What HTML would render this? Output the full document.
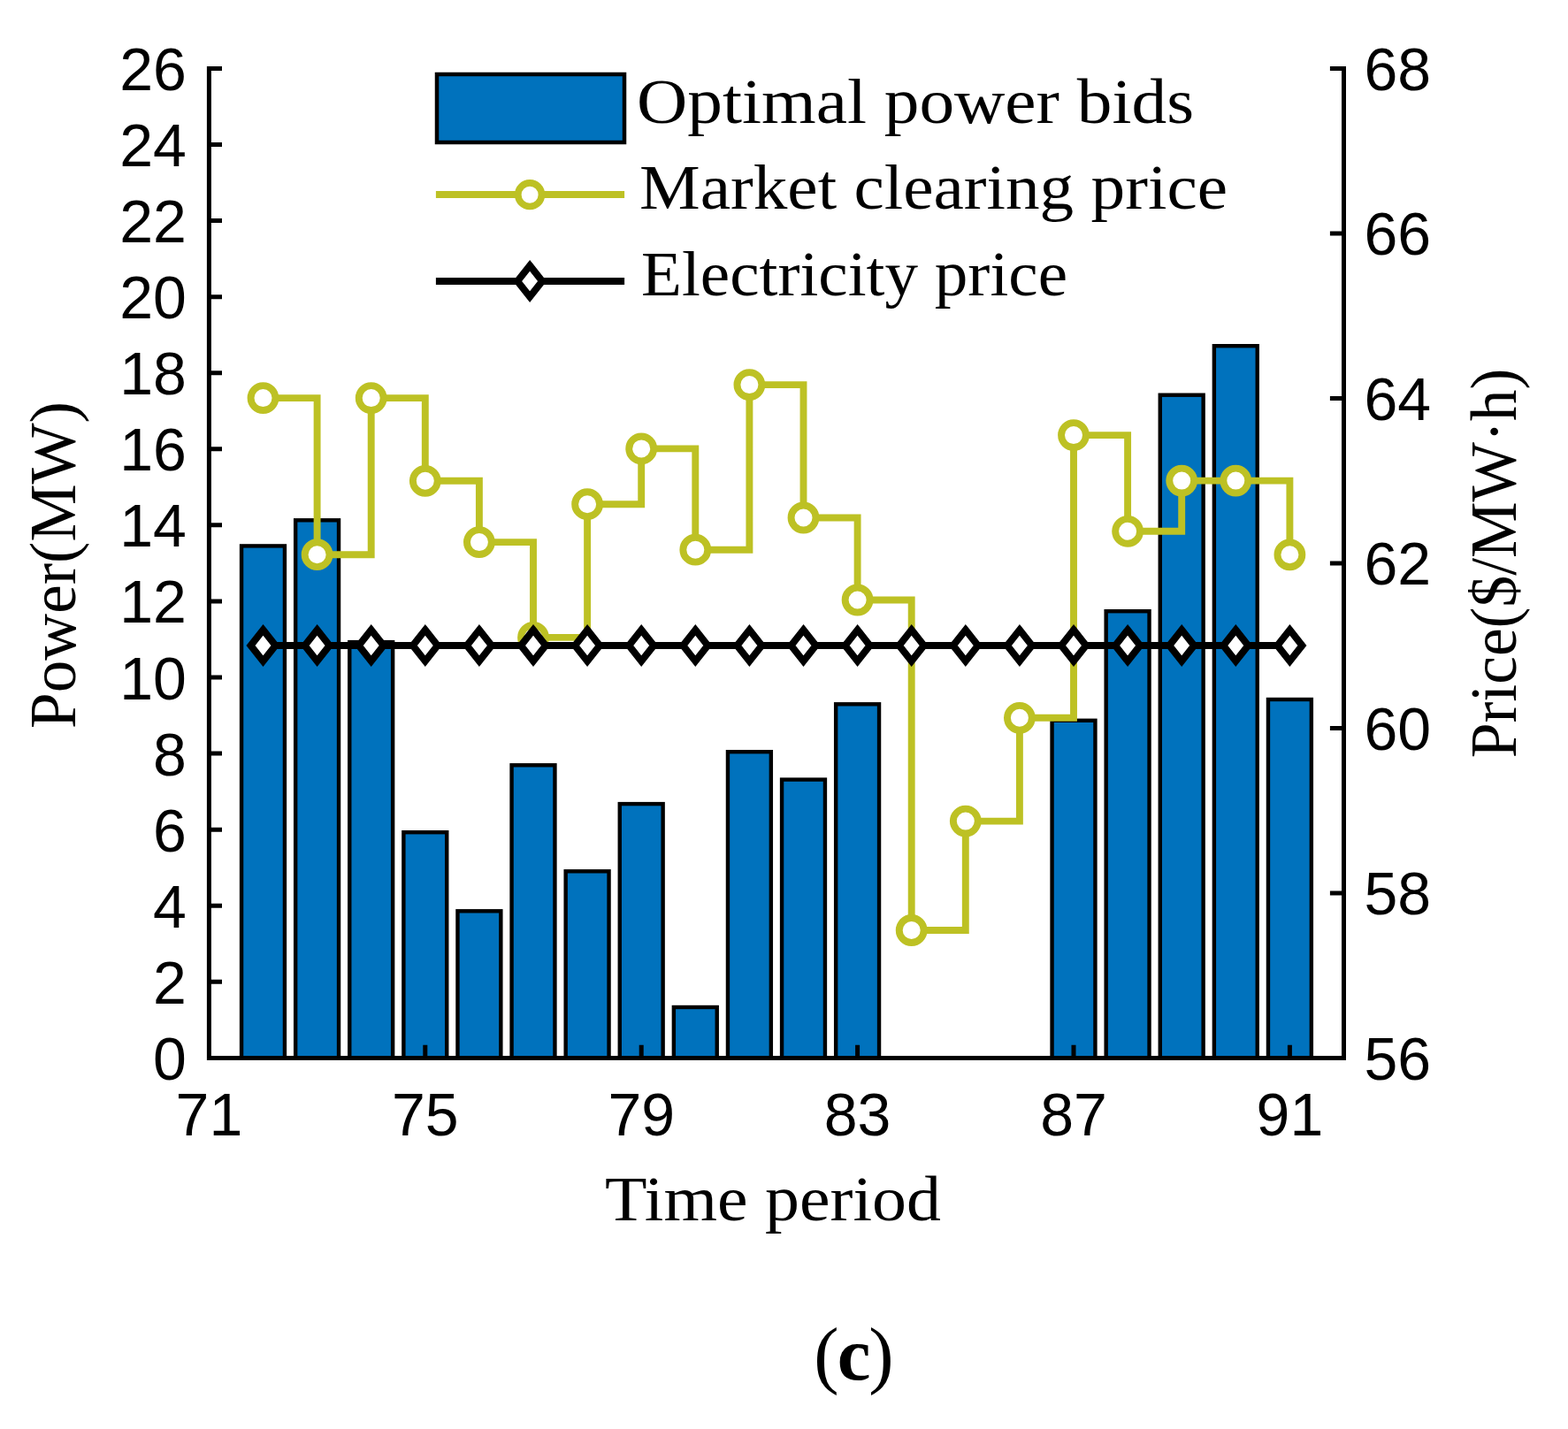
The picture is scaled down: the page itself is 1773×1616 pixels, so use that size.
<!DOCTYPE html>
<html><head><meta charset="utf-8"><title>Chart</title>
<style>html,body{margin:0;padding:0;background:#fff;}svg{display:block;}</style>
</head><body>
<svg width="1773" height="1616" viewBox="0 0 1773 1616">
<rect width="1773" height="1616" fill="#fff"/>
<rect x="273.06" y="617.4" width="48.88" height="579" fill="#0072BD" stroke="#000" stroke-width="4.4"/>
<rect x="334.16" y="588.3" width="48.88" height="608.1" fill="#0072BD" stroke="#000" stroke-width="4.4"/>
<rect x="395.26" y="726.1" width="48.88" height="470.3" fill="#0072BD" stroke="#000" stroke-width="4.4"/>
<rect x="456.36" y="941.2" width="48.88" height="255.2" fill="#0072BD" stroke="#000" stroke-width="4.4"/>
<rect x="517.46" y="1030.3" width="48.88" height="166.1" fill="#0072BD" stroke="#000" stroke-width="4.4"/>
<rect x="578.56" y="865.3" width="48.88" height="331.1" fill="#0072BD" stroke="#000" stroke-width="4.4"/>
<rect x="639.66" y="985.3" width="48.88" height="211.1" fill="#0072BD" stroke="#000" stroke-width="4.4"/>
<rect x="700.76" y="909.1" width="48.88" height="287.3" fill="#0072BD" stroke="#000" stroke-width="4.4"/>
<rect x="761.86" y="1139" width="48.88" height="57.4" fill="#0072BD" stroke="#000" stroke-width="4.4"/>
<rect x="822.96" y="850.2" width="48.88" height="346.2" fill="#0072BD" stroke="#000" stroke-width="4.4"/>
<rect x="884.06" y="881.6" width="48.88" height="314.8" fill="#0072BD" stroke="#000" stroke-width="4.4"/>
<rect x="945.16" y="796.3" width="48.88" height="400.1" fill="#0072BD" stroke="#000" stroke-width="4.4"/>
<rect x="1189.56" y="814.8" width="48.88" height="381.6" fill="#0072BD" stroke="#000" stroke-width="4.4"/>
<rect x="1250.66" y="691.2" width="48.88" height="505.2" fill="#0072BD" stroke="#000" stroke-width="4.4"/>
<rect x="1311.76" y="446.7" width="48.88" height="749.7" fill="#0072BD" stroke="#000" stroke-width="4.4"/>
<rect x="1372.86" y="391.2" width="48.88" height="805.2" fill="#0072BD" stroke="#000" stroke-width="4.4"/>
<rect x="1433.96" y="791" width="48.88" height="405.4" fill="#0072BD" stroke="#000" stroke-width="4.4"/>
<path d="M297.5,450.1H358.6V627.2H419.7V450.1H480.8V543.8H541.9V613.1H603V720.9H664.1V570.2H725.2V507.4H786.3V621.7H847.4V435.1H908.5V585.5H969.6V678.5H1030.7V1052H1091.8V928.6H1152.9V811.8H1214V492.1H1275.1V600.8H1336.2V543.6H1397.3V543.6H1458.4V627.3" fill="none" stroke="#BDC124" stroke-width="7.9" stroke-linejoin="miter" stroke-miterlimit="10"/>
<circle cx="297.5" cy="450.1" r="13.95" fill="#fff" stroke="#BDC124" stroke-width="7.9"/>
<circle cx="358.6" cy="627.2" r="13.95" fill="#fff" stroke="#BDC124" stroke-width="7.9"/>
<circle cx="419.7" cy="450.1" r="13.95" fill="#fff" stroke="#BDC124" stroke-width="7.9"/>
<circle cx="480.8" cy="543.8" r="13.95" fill="#fff" stroke="#BDC124" stroke-width="7.9"/>
<circle cx="541.9" cy="613.1" r="13.95" fill="#fff" stroke="#BDC124" stroke-width="7.9"/>
<circle cx="603" cy="720.9" r="13.95" fill="#fff" stroke="#BDC124" stroke-width="7.9"/>
<circle cx="664.1" cy="570.2" r="13.95" fill="#fff" stroke="#BDC124" stroke-width="7.9"/>
<circle cx="725.2" cy="507.4" r="13.95" fill="#fff" stroke="#BDC124" stroke-width="7.9"/>
<circle cx="786.3" cy="621.7" r="13.95" fill="#fff" stroke="#BDC124" stroke-width="7.9"/>
<circle cx="847.4" cy="435.1" r="13.95" fill="#fff" stroke="#BDC124" stroke-width="7.9"/>
<circle cx="908.5" cy="585.5" r="13.95" fill="#fff" stroke="#BDC124" stroke-width="7.9"/>
<circle cx="969.6" cy="678.5" r="13.95" fill="#fff" stroke="#BDC124" stroke-width="7.9"/>
<circle cx="1030.7" cy="1052" r="13.95" fill="#fff" stroke="#BDC124" stroke-width="7.9"/>
<circle cx="1091.8" cy="928.6" r="13.95" fill="#fff" stroke="#BDC124" stroke-width="7.9"/>
<circle cx="1152.9" cy="811.8" r="13.95" fill="#fff" stroke="#BDC124" stroke-width="7.9"/>
<circle cx="1214" cy="492.1" r="13.95" fill="#fff" stroke="#BDC124" stroke-width="7.9"/>
<circle cx="1275.1" cy="600.8" r="13.95" fill="#fff" stroke="#BDC124" stroke-width="7.9"/>
<circle cx="1336.2" cy="543.6" r="13.95" fill="#fff" stroke="#BDC124" stroke-width="7.9"/>
<circle cx="1397.3" cy="543.6" r="13.95" fill="#fff" stroke="#BDC124" stroke-width="7.9"/>
<circle cx="1458.4" cy="627.3" r="13.95" fill="#fff" stroke="#BDC124" stroke-width="7.9"/>
<path d="M297.5,730H1458.4" stroke="#000" stroke-width="7.9"/>
<path d="M297.5,712.3L311.5,730L297.5,747.7L283.5,730Z" fill="#fff" stroke="#000" stroke-width="7.9" stroke-linejoin="miter" stroke-miterlimit="10"/>
<path d="M358.6,712.3L372.6,730L358.6,747.7L344.6,730Z" fill="#fff" stroke="#000" stroke-width="7.9" stroke-linejoin="miter" stroke-miterlimit="10"/>
<path d="M419.7,712.3L433.7,730L419.7,747.7L405.7,730Z" fill="#fff" stroke="#000" stroke-width="7.9" stroke-linejoin="miter" stroke-miterlimit="10"/>
<path d="M480.8,712.3L494.8,730L480.8,747.7L466.8,730Z" fill="#fff" stroke="#000" stroke-width="7.9" stroke-linejoin="miter" stroke-miterlimit="10"/>
<path d="M541.9,712.3L555.9,730L541.9,747.7L527.9,730Z" fill="#fff" stroke="#000" stroke-width="7.9" stroke-linejoin="miter" stroke-miterlimit="10"/>
<path d="M603,712.3L617,730L603,747.7L589,730Z" fill="#fff" stroke="#000" stroke-width="7.9" stroke-linejoin="miter" stroke-miterlimit="10"/>
<path d="M664.1,712.3L678.1,730L664.1,747.7L650.1,730Z" fill="#fff" stroke="#000" stroke-width="7.9" stroke-linejoin="miter" stroke-miterlimit="10"/>
<path d="M725.2,712.3L739.2,730L725.2,747.7L711.2,730Z" fill="#fff" stroke="#000" stroke-width="7.9" stroke-linejoin="miter" stroke-miterlimit="10"/>
<path d="M786.3,712.3L800.3,730L786.3,747.7L772.3,730Z" fill="#fff" stroke="#000" stroke-width="7.9" stroke-linejoin="miter" stroke-miterlimit="10"/>
<path d="M847.4,712.3L861.4,730L847.4,747.7L833.4,730Z" fill="#fff" stroke="#000" stroke-width="7.9" stroke-linejoin="miter" stroke-miterlimit="10"/>
<path d="M908.5,712.3L922.5,730L908.5,747.7L894.5,730Z" fill="#fff" stroke="#000" stroke-width="7.9" stroke-linejoin="miter" stroke-miterlimit="10"/>
<path d="M969.6,712.3L983.6,730L969.6,747.7L955.6,730Z" fill="#fff" stroke="#000" stroke-width="7.9" stroke-linejoin="miter" stroke-miterlimit="10"/>
<path d="M1030.7,712.3L1044.7,730L1030.7,747.7L1016.7,730Z" fill="#fff" stroke="#000" stroke-width="7.9" stroke-linejoin="miter" stroke-miterlimit="10"/>
<path d="M1091.8,712.3L1105.8,730L1091.8,747.7L1077.8,730Z" fill="#fff" stroke="#000" stroke-width="7.9" stroke-linejoin="miter" stroke-miterlimit="10"/>
<path d="M1152.9,712.3L1166.9,730L1152.9,747.7L1138.9,730Z" fill="#fff" stroke="#000" stroke-width="7.9" stroke-linejoin="miter" stroke-miterlimit="10"/>
<path d="M1214,712.3L1228,730L1214,747.7L1200,730Z" fill="#fff" stroke="#000" stroke-width="7.9" stroke-linejoin="miter" stroke-miterlimit="10"/>
<path d="M1275.1,712.3L1289.1,730L1275.1,747.7L1261.1,730Z" fill="#fff" stroke="#000" stroke-width="7.9" stroke-linejoin="miter" stroke-miterlimit="10"/>
<path d="M1336.2,712.3L1350.2,730L1336.2,747.7L1322.2,730Z" fill="#fff" stroke="#000" stroke-width="7.9" stroke-linejoin="miter" stroke-miterlimit="10"/>
<path d="M1397.3,712.3L1411.3,730L1397.3,747.7L1383.3,730Z" fill="#fff" stroke="#000" stroke-width="7.9" stroke-linejoin="miter" stroke-miterlimit="10"/>
<path d="M1458.4,712.3L1472.4,730L1458.4,747.7L1444.4,730Z" fill="#fff" stroke="#000" stroke-width="7.9" stroke-linejoin="miter" stroke-miterlimit="10"/>
<path d="M236.4,74.9V1196.4H1519.5V74.9" fill="none" stroke="#000" stroke-width="5" stroke-linejoin="miter"/>
<path d="M236.4,1196.4H251M236.4,1110.32H251M236.4,1024.25H251M236.4,938.17H251M236.4,852.09H251M236.4,766.02H251M236.4,679.94H251M236.4,593.86H251M236.4,507.78H251M236.4,421.71H251M236.4,335.63H251M236.4,249.55H251M236.4,163.48H251M236.4,77.4H251M1519.5,1196.4H1503.9M1519.5,1009.9H1503.9M1519.5,823.4H1503.9M1519.5,636.9H1503.9M1519.5,450.4H1503.9M1519.5,263.9H1503.9M1519.5,77.4H1503.9M480.8,1196.4V1181.8M725.2,1196.4V1181.8M969.6,1196.4V1181.8M1214,1196.4V1181.8M1458.4,1196.4V1181.8" stroke="#000" stroke-width="5"/>
<g style="font-family:'Liberation Sans',Arial,sans-serif;font-size:68px" fill="#000"><text x="210.8" y="1220.9" text-anchor="end">0</text><text x="210.8" y="1134.82" text-anchor="end">2</text><text x="210.8" y="1048.75" text-anchor="end">4</text><text x="210.8" y="962.67" text-anchor="end">6</text><text x="210.8" y="876.59" text-anchor="end">8</text><text x="210.8" y="790.52" text-anchor="end">10</text><text x="210.8" y="704.44" text-anchor="end">12</text><text x="210.8" y="618.36" text-anchor="end">14</text><text x="210.8" y="532.28" text-anchor="end">16</text><text x="210.8" y="446.21" text-anchor="end">18</text><text x="210.8" y="360.13" text-anchor="end">20</text><text x="210.8" y="274.05" text-anchor="end">22</text><text x="210.8" y="187.98" text-anchor="end">24</text><text x="210.8" y="101.9" text-anchor="end">26</text><text x="1542.5" y="1220.9">56</text><text x="1542.5" y="1034.4">58</text><text x="1542.5" y="847.9">60</text><text x="1542.5" y="661.4">62</text><text x="1542.5" y="474.9">64</text><text x="1542.5" y="288.4">66</text><text x="1542.5" y="101.9">68</text><text x="236.4" y="1284.1" text-anchor="middle">71</text><text x="480.8" y="1284.1" text-anchor="middle">75</text><text x="725.2" y="1284.1" text-anchor="middle">79</text><text x="969.6" y="1284.1" text-anchor="middle">83</text><text x="1214" y="1284.1" text-anchor="middle">87</text><text x="1458.4" y="1284.1" text-anchor="middle">91</text></g>
<rect x="494" y="84" width="212" height="77" fill="#0072BD" stroke="#000" stroke-width="4.5"/>
<path d="M492.9,220H706.1" stroke="#BDC124" stroke-width="8"/>
<circle cx="599.1" cy="220.2" r="13.3" fill="#fff" stroke="#BDC124" stroke-width="7.6"/>
<path d="M492.9,318H706.1" stroke="#000" stroke-width="8"/>
<path d="M599.1,300.3L613.1,318L599.1,335.7L585.1,318Z" fill="#fff" stroke="#000" stroke-width="7.9" stroke-linejoin="miter" stroke-miterlimit="10"/>
<g style="font-family:'Liberation Serif','Times New Roman',serif;font-size:72px" fill="#000"><text x="720" y="139" textLength="630" lengthAdjust="spacingAndGlyphs">Optimal power bids</text><text x="723" y="235.5" textLength="665" lengthAdjust="spacingAndGlyphs">Market clearing price</text><text x="725" y="334" textLength="482" lengthAdjust="spacingAndGlyphs">Electricity price</text><text x="684" y="1380.2" textLength="380" lengthAdjust="spacingAndGlyphs">Time period</text><text x="0" y="0" textLength="370" lengthAdjust="spacingAndGlyphs" transform="translate(84.9,824) rotate(-90)" font-size="75">Power(MW)</text><text x="0" y="0" textLength="440.5" lengthAdjust="spacingAndGlyphs" transform="translate(1714,857.2) rotate(-90)" font-size="75">Price($/MW&#183;h)</text></g>
<text x="964.5" y="1559.5" text-anchor="middle" letter-spacing="-2" style="font-family:'Liberation Serif','Times New Roman',serif;font-size:85px" fill="#000">(<tspan font-weight="bold">c</tspan>)</text>
</svg>
</body></html>
